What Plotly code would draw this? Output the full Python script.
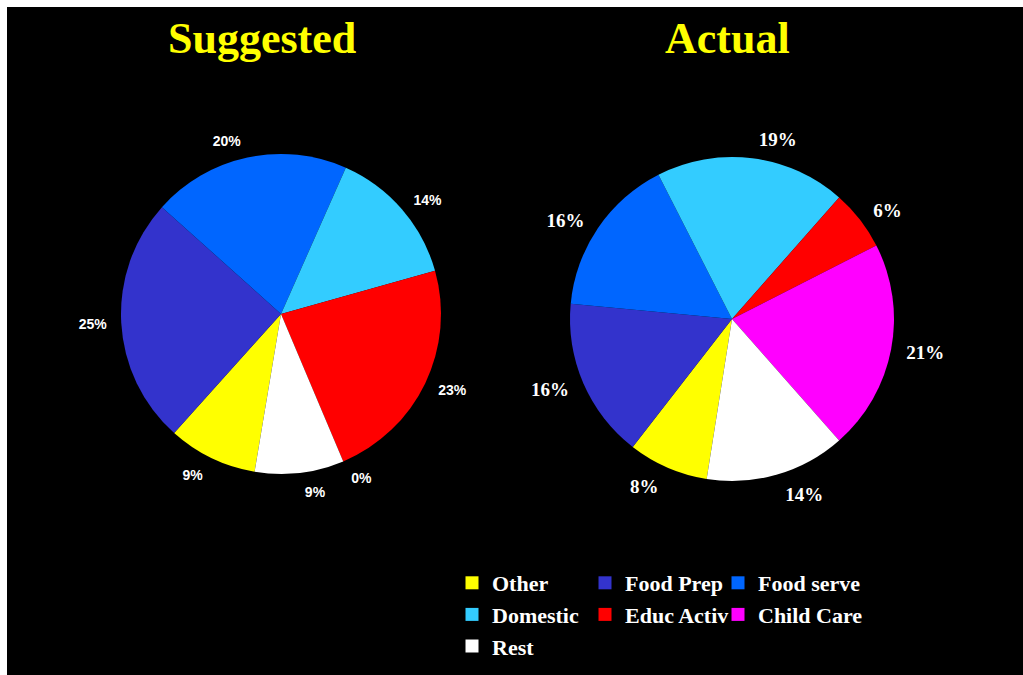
import plotly.graph_objects as go

# ---- data ----
categories = ["Other", "Food Prep", "Food serve", "Domestic", "Educ Activ", "Child Care", "Rest"]
suggested = [9, 25, 20, 14, 23, 0, 9]
actual = [8, 16, 16, 19, 6, 21, 14]
colors = ["#FFFF00", "#3333CC", "#0066FF", "#33CCFF", "#FF0000", "#FF00FF", "#FFFFFF"]
titles = ["Suggested", "Actual"]

W, H = 1023, 675
ML, MT = 7, 7
GW, GH = W - ML, H - MT


def dom(cx, cy, r):
    return dict(x=[(cx - r - ML) / GW, (cx + r - ML) / GW],
                y=[(H - (cy + r)) / GH, (H - (cy - r)) / GH])


fig = go.Figure()

pies = [
    dict(vals=suggested, rot=189.5, c=(281, 314), r=160, tc=(281, 315), tr=170,
         font=dict(family="Liberation Sans, Arial, sans-serif", size=14, color="white", weight="bold")),
    dict(vals=actual, rot=189, c=(732, 319), r=162, tc=(732, 320), tr=172,
         font=dict(family="Liberation Serif, Times New Roman, serif", size=19, color="white", weight="bold")),
]

clear = ["rgba(0,0,0,0)"] * len(categories)

for p in pies:
    vals = p["vals"]
    fig.add_trace(go.Pie(
        labels=categories, values=vals, sort=False, direction="clockwise",
        rotation=p["rot"], marker=dict(colors=colors, line=dict(width=0)),
        textinfo="none", showlegend=False, hoverinfo="label+percent",
        domain=dom(*p["c"], p["r"]),
    ))
    # percentage labels, set a little away from the pie (zero slices in their own layer)
    groups = [[f"{v}%" if v > 0 else "" for v in vals],
              [f"{v}%" if v == 0 else "" for v in vals]]
    for txt in groups:
        if not any(txt):
            continue
        fig.add_trace(go.Pie(
            labels=categories, values=vals, sort=False, direction="clockwise",
            rotation=p["rot"], marker=dict(colors=clear, line=dict(width=0)),
            text=txt, textinfo="text", textposition="outside",
            textfont=p["font"], outsidetextfont=p["font"],
            showlegend=False, hoverinfo="skip",
            domain=dom(*p["tc"], p["tr"]),
        ))

# legend entries (3 columns, row-major like the original)
for i, (name, col) in enumerate(zip(categories, colors)):
    fig.add_trace(go.Scatter(
        x=[None], y=[None], mode="markers", name=name,
        marker=dict(symbol="square", size=13, color=col, line=dict(width=0)),
        legendgroup=f"col{i % 3}", legendwidth=88 if i % 3 < 2 else 140,
        showlegend=True, hoverinfo="skip",
    ))

# titles
for t, cx in zip(titles, [261.5, 727.5]):
    fig.add_annotation(
        text=t, x=(cx - ML) / GW, y=(H - 38.5) / GH, xref="paper", yref="paper",
        xanchor="center", yanchor="middle", showarrow=False,
        font=dict(family="Liberation Serif, Times New Roman, serif", size=44,
                  color="#FFFF00", weight="bold"),
    )

fig.update_layout(
    width=W, height=H,
    margin=dict(l=ML, t=MT, r=0, b=0, autoexpand=False),
    paper_bgcolor="white", plot_bgcolor="black",
    xaxis=dict(visible=False, fixedrange=True),
    yaxis=dict(visible=False, fixedrange=True),
    legend=dict(
        orientation="h", traceorder="grouped", entrywidth=88,
        xref="container", yref="container",
        x=452 / W, y=1 - 562 / H, xanchor="left", yanchor="top",
        bgcolor="rgba(0,0,0,0)", borderwidth=0,
        font=dict(family="Liberation Serif, Times New Roman, serif", size=22,
                  color="white", weight="bold"),
    ),
)

fig.write_html("out.html")
